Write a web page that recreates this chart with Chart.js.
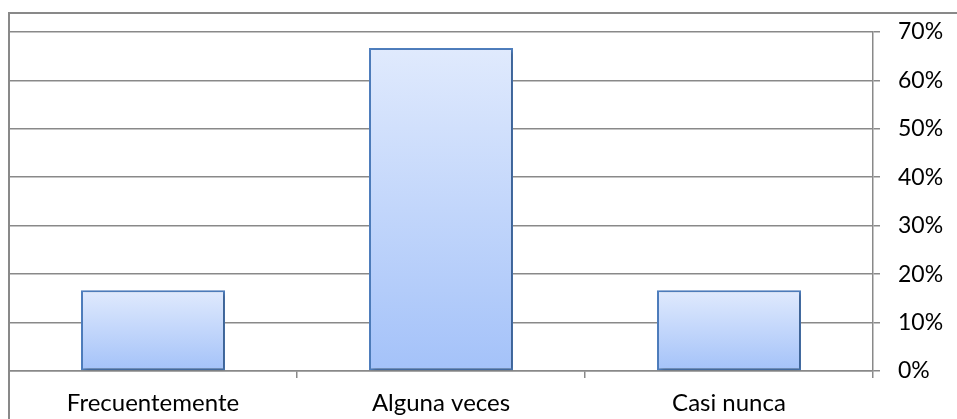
<!DOCTYPE html>
<html>
<head>
<meta charset="utf-8">
<script src="https://cdn.jsdelivr.net/npm/chart.js@4/dist/chart.umd.min.js"></script>
<style>
  body { margin: 0; background: #fff; }
  #wrap { width: 957px; height: 419px; }
</style>
</head>
<body>
<div id="wrap"><canvas id="barChart" width="957" height="419"></canvas></div>
<script>
// data
const categories = ["Frecuentemente", "Alguna veces", "Casi nunca"];
const percentages = [16.67, 66.67, 16.67];
const yMax = 70;
const yStep = 10;

const lineGray = "#898989";

// outer chart border (top + left edge, the rest is cropped away)
const frameBorder = {
  id: "frameBorder",
  afterDraw(chart) {
    const ctx = chart.ctx;
    ctx.save();
    ctx.strokeStyle = lineGray;
    ctx.lineWidth = 2;
    ctx.beginPath();
    ctx.moveTo(957, 13);
    ctx.lineTo(9, 13);
    ctx.lineTo(9, 419);
    ctx.stroke();
    ctx.restore();
  },
};

// soft shadow under the bars
const barShadow = {
  id: "barShadow",
  beforeDatasetsDraw(chart) {
    const ctx = chart.ctx;
    ctx.save();
    ctx.shadowColor = "rgba(0,0,0,0.28)";
    ctx.shadowBlur = 4;
    ctx.shadowOffsetX = 2;
    ctx.shadowOffsetY = 2;
  },
  afterDatasetsDraw(chart) {
    chart.ctx.restore();
  },
};

const ctx = document.getElementById("barChart");

new Chart(ctx, {
  type: "bar",
  data: {
    labels: categories,
    datasets: [
      {
        data: percentages,
        borderColor: "#4f7fbf",
        borderWidth: 2,
        borderSkipped: false,
        categoryPercentage: 1,
        barPercentage: 0.5,
        backgroundColor: (c) => {
          const chart = c.chart;
          if (!chart.chartArea) return "#c0d4f8";
          const y = chart.scales.y;
          const top = y.getPixelForValue(c.raw);
          const bottom = y.getPixelForValue(0);
          const g = chart.ctx.createLinearGradient(0, top, 0, bottom);
          g.addColorStop(0, "#e0eafd");
          g.addColorStop(1, "#a4c2f9");
          return g;
        },
      },
    ],
  },
  options: {
    responsive: false,
    animation: false,
    devicePixelRatio: 1,
    layout: { padding: { left: 9, top: 30, right: 0, bottom: 0 } },
    plugins: {
      legend: { display: false },
      tooltip: { enabled: false },
    },
    scales: {
      x: {
        offset: true,
        afterFit: (scale) => { scale.height = 48; },
        grid: {
          offset: true,
          drawOnChartArea: false,
          color: lineGray,
          lineWidth: 1.5,
          tickLength: 7,
        },
        border: { color: lineGray, width: 1.5 },
        ticks: {
          color: "#000",
          padding: 11,
          font: { family: "Lato", size: 24 },
        },
      },
      y: {
        position: "right",
        min: 0,
        max: yMax,
        afterFit: (scale) => { scale.width = 84; },
        grid: {
          color: lineGray,
          lineWidth: 1.5,
          tickLength: 7,
        },
        border: { color: lineGray, width: 1.5 },
        ticks: {
          stepSize: yStep,
          color: "#000",
          padding: 18,
          crossAlign: "near",
          font: { family: "Lato", size: 23 },
          callback: (v) => v + "%",
        },
      },
    },
  },
  plugins: [barShadow, frameBorder],
});
</script>
</body>
</html>
